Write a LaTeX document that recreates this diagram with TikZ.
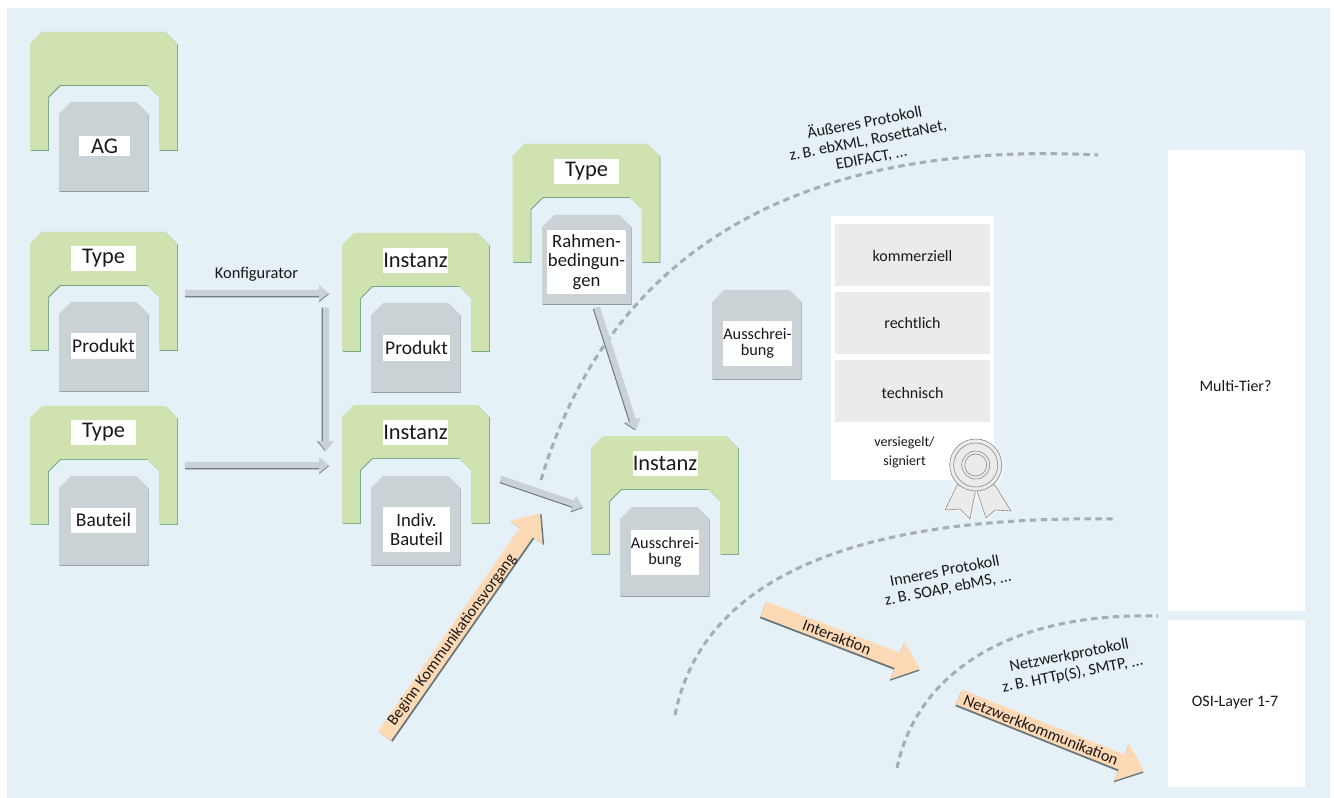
\documentclass[tikz,border=0pt]{standalone}
\usepackage{fontspec}
\setmainfont{Carlito}
\usetikzlibrary{calc}
\definecolor{bgblue}{HTML}{E5F0F7}
\definecolor{grgreen}{HTML}{D0E2B0}
\definecolor{grdark}{HTML}{6FA98A}
\definecolor{boxgray}{HTML}{CBD2D6}
\definecolor{boxdark}{HTML}{8E9AA0}
\definecolor{arrdark}{HTML}{66757C}
\definecolor{peach}{HTML}{FDD9B5}
\definecolor{paneg}{HTML}{EBEBEB}
\definecolor{dashg}{HTML}{A6AEB3}
\definecolor{sealg}{HTML}{8A8A8A}
\tikzset{
  every node/.style={text=black!90, font=\fontsize{12.3pt}{15pt}\selectfont},
  lab/.style={fill=white, inner sep=0pt, align=center},
  largelab/.style={lab, minimum width=48.75pt, minimum height=18.75pt, font=\fontsize{16.8pt}{18pt}\selectfont},
  midlab/.style={lab, minimum width=48.75pt, minimum height=18.75pt, font=\fontsize{14.6pt}{18pt}\selectfont},
  twolab/.style={lab, minimum width=50pt, minimum height=33.75pt, font=\fontsize{14pt}{13.8pt}\selectfont},
  smalllab/.style={lab, minimum width=50pt, minimum height=33.75pt, font=\fontsize{12.2pt}{12pt}\selectfont},
  paneltext/.style={font=\fontsize{12pt}{14pt}\selectfont, align=center},
  tilted/.style={font=\fontsize{12.1pt}{13.5pt}\selectfont, align=center},
  curve/.style={draw=dashg, line width=2.3pt, dash pattern=on 4.8pt off 3.4pt},
  panelbox/.style={fill=paneg, draw=none, inner sep=0pt, minimum width=116.25pt, minimum height=46.5pt},
  sealline/.style={draw=sealg, line width=0.45pt}
}
% green bracket with x,y = top left
\newcommand{\greenbracket}[2]{%
  \begin{scope}[shift={(#1,#2)}]
    \fill[grdark,shift={(.8,.8)}] (0,12)--(12,0)--(135,0)--(147,12)--(147,118)--(129,118)--(129,65)--(117,53)--(30,53)--(18,65)--(18,118)--(0,118)--cycle;
    \fill[grgreen] (0,12)--(12,0)--(135,0)--(147,12)--(147,118)--(129,118)--(129,65)--(117,53)--(30,53)--(18,65)--(18,118)--(0,118)--cycle;
  \end{scope}}
% grey document with x,y = top left
\newcommand{\graydoc}[2]{%
  \begin{scope}[shift={(#1,#2)}]
    \fill[boxdark,shift={(.7,.9)}] (0,12)--(12,0)--(77,0)--(89,12)--(89,89)--(0,89)--cycle;
    \fill[boxgray] (0,12)--(12,0)--(77,0)--(89,12)--(89,89)--(0,89)--cycle;
  \end{scope}}
\newcommand{\blockarrow}[7]{%
  \coordinate (sa) at ($(#1)!#7!-90:(#2)$);
  \coordinate (sb) at ($(#2)!#7!90:(#1)$);
  \coordinate (ba) at ($(sb)!#5!(sa)$);
  \fill[arrdark] ($(sa)!#3!90:(sb)$) -- ($(ba)!#3!-90:(sa)$) -- ($(ba)!#4!-90:(sa)$) -- (sb) -- ($(ba)!#4!90:(sa)$) -- ($(ba)!#3!90:(sa)$) -- ($(sa)!#3!-90:(sb)$) -- cycle;
  \coordinate (ba) at ($(#2)!#5!(#1)$);
  \fill[#6] ($(#1)!#3!90:(#2)$) -- ($(ba)!#3!-90:(#1)$) -- ($(ba)!#4!-90:(#1)$) -- (#2) -- ($(ba)!#4!90:(#1)$) -- ($(ba)!#3!90:(#1)$) -- ($(#1)!#3!-90:(#2)$) -- cycle;}
\begin{document}
\begin{tikzpicture}[x=.75pt,y=-.75pt]
\useasboundingbox (0,0) rectangle (1334,798);
\fill[white] (0,0) rectangle (1334,798);
\fill[bgblue] (7,8) rectangle (1330,798);

% right panels
\fill[white] (1168,150) rectangle (1305,611);
\fill[white] (1168,620) rectangle (1305,787);
\node[paneltext] (multitier) at (1235.5,386) {Multi-Tier?};
\node[paneltext] (osilayer) at (1235,703) {OSI-Layer 1-7};

% dashed protocol curves
\coordinate (c1a) at (541,480); \coordinate (c1b) at (1098,155);
\coordinate (c2a) at (675,715); \coordinate (c2b) at (1113,519);
\coordinate (c3a) at (897,768); \coordinate (c3b) at (1158,616);

\draw[curve] (c1a) .. controls (610,250) and (800,140) .. (c1b);
\draw[curve] (c2a) .. controls (700,590) and (830,515) .. (c2b);
\draw[curve] (c3a) .. controls (915,680) and (1000,612) .. (c3b);

% document groups
\greenbracket{30}{32}   \graydoc{59}{102}
\greenbracket{30}{232}  \graydoc{59}{302}
\greenbracket{30}{406}  \graydoc{59}{476}
\greenbracket{342}{233} \graydoc{371}{303}
\greenbracket{342}{405} \graydoc{371}{476}
\greenbracket{512.5}{144} \graydoc{542}{215}
\greenbracket{591}{436} \graydoc{620}{507}
\graydoc{712}{290}

% labels
\node[largelab,minimum width=38.25pt,minimum height=15pt] (ag) at (104.5,146) {AG};
\node[largelab] (type1) at (103.5,258.5) {Type};
\node[midlab] (produkt1) at (103.5,346) {Produkt};
\node[largelab] (type2) at (103.5,432) {Type};
\node[midlab] (bauteil1) at (103.5,520) {Bauteil};
\node[largelab] (instanz1) at (415.5,260.5) {Instanz};
\node[midlab,minimum width=50pt] (produkt2) at (416.5,348) {Produkt};
\node[largelab] (instanz2) at (415.5,432.5) {Instanz};
\node[twolab] (indiv) at (416.5,529.5) {Indiv.\\Bauteil};
\node[largelab] (type3) at (586.5,171.5) {Type};
\node[twolab,minimum width=59.25pt,minimum height=48pt,font=\fontsize{14pt}{14.4pt}\selectfont] (rahmen) at (586.5,262) {Rahmen-\\bedingun-\\gen};
\node[largelab] (instanz3) at (665,463.5) {Instanz};
\node[smalllab] (aus1) at (665,552.5) {Ausschrei-\\bung};
\node[smalllab] (aus2) at (757.5,343.5) {Ausschrei-\\bung};

% sealed panel
\fill[white] (831,216) rectangle (994,480);
\node[panelbox,paneltext] (komm) at (912.5,255) {\raisebox{-5pt}[0pt][0pt]{kommerziell}};
\node[panelbox,paneltext] (recht) at (912.5,323) {\raisebox{-4.2pt}[0pt][0pt]{rechtlich}};
\node[panelbox,paneltext] (tech) at (912.5,391) {\raisebox{-5.7pt}[0pt][0pt]{technisch}};
\node[font=\fontsize{10.5pt}{14pt}\selectfont,align=center] (siegel) at (904.5,452.5) {versiegelt/\\signiert};

% seal
\begin{scope}
  \fill[white,opacity=.35] (975.7,465) circle (29);
  \draw[white,line width=3pt,opacity=.5,line join=round] (957,485)--(945,510)--(960,509)--(970,519)--(976,488)--(986,518)--(995,510)--(1011,511)--(995,485);
  \filldraw[sealline,fill=paneg] (957,485)--(945,510)--(960,509)--(970,519)--(976,488)--(986,518)--(995,510)--(1011,511)--(995,485)--cycle;
  \filldraw[sealline,fill=paneg] (975.7,465) circle (26);
  \draw[sealline] (975.7,465) circle (22);
  \draw[sealline] (975.7,465) circle (14);
  \draw[sealline] (975.7,465) circle (11);
\end{scope}

% grey arrows
\coordinate (g1a) at (185,293); \coordinate (g1b) at (329,293);
\coordinate (g2a) at (185,465); \coordinate (g2b) at (329,465);
\coordinate (g3a) at (326,308); \coordinate (g3b) at (326,451);
\coordinate (g4a) at (597,308); \coordinate (g4b) at (636,430);
\coordinate (g5a) at (501,479); \coordinate (g5b) at (583,507);
\blockarrow{g1a}{g1b}{2.4pt}{6pt}{7.5pt}{boxgray}{.8pt}
\blockarrow{g2a}{g2b}{2.4pt}{6pt}{7.5pt}{boxgray}{.8pt}
\blockarrow{g3a}{g3b}{2.4pt}{6pt}{7.5pt}{boxgray}{.8pt}
\blockarrow{g4a}{g4b}{2.4pt}{6pt}{7.5pt}{boxgray}{.8pt}
\blockarrow{g5a}{g5b}{2.4pt}{6pt}{7.5pt}{boxgray}{.8pt}
\node (konf) at (256.5,274) {Konfigurator};

% peach arrows
\coordinate (p1a) at (384.5,736); \coordinate (p1b) at (540,513);
\coordinate (p2a) at (763.5,609); \coordinate (p2b) at (920,669);
\coordinate (p3a) at (959,697); \coordinate (p3b) at (1144,771);
\blockarrow{p1a}{p1b}{6pt}{15pt}{18pt}{peach}{1.4pt}
\blockarrow{p2a}{p2b}{6pt}{15pt}{18pt}{peach}{1.4pt}
\blockarrow{p3a}{p3b}{6pt}{15pt}{18pt}{peach}{1.4pt}
\node[tilted,font=\fontsize{11.9pt}{13pt}\selectfont,rotate=54] (beginn) at (452,640) {Beginn Kommunikationsvorgang};
\node[tilted,rotate=-21] (inter) at (837,637) {Interaktion};
\node[tilted,rotate=-21.5] (netzk) at (1041,730) {Netzwerkkommunikation};

% protocol labels
\node[tilted,rotate=11] (outer) at (868,140) {Äußeres Protokoll\\z.\,B. ebXML, RosettaNet,\\EDIFACT, ...};
\node[tilted,font=\fontsize{12.1pt}{13pt}\selectfont,rotate=11] (inner) at (946.5,580) {Inneres Protokoll\\z.\,B. SOAP, ebMS, ...};
\node[tilted,font=\fontsize{12.1pt}{14pt}\selectfont,rotate=11] (netzp) at (1071,665) {Netzwerkprotokoll\\z.\,B. HTTp(S), SMTP, ...};
\end{tikzpicture}
\end{document}
